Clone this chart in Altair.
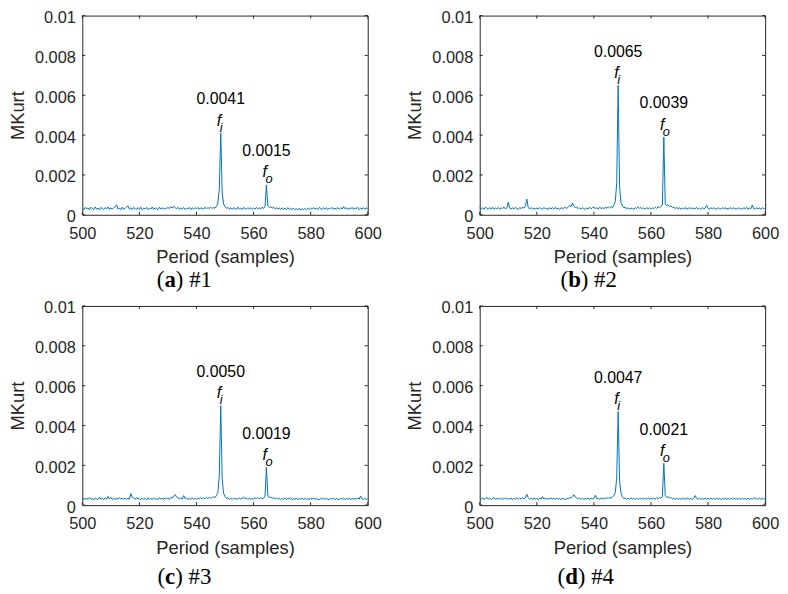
import altair as alt
import pandas as pd

# ---- data ----------------------------------------------------------------
# sample grid of the period axis (samples), 0.5 sample step
PERIOD = [500 + 0.5 * i for i in range(201)]

X_TICKS = [500, 520, 540, 560, 580, 600]
Y_TICKS = [0, 0.002, 0.004, 0.006, 0.008, 0.01]

# MKurt values in units of 1e-4, one row = 10 samples (20 points)
MK_A = [
    3.3, 2.6, 3.7, 2.9, 3.5, 2.5, 3.8, 3.0, 2.6, 3.9, 2.8, 3.4, 2.5, 3.7, 3.1, 2.7, 3.6, 2.9, 3.9, 2.6,
    3.5, 2.8, 3.6, 4.0, 5.0, 2.9, 3.4, 2.6, 3.8, 2.7, 3.3, 3.9, 4.5, 2.8, 3.5, 2.6, 3.7, 3.0, 2.7, 3.6,
    2.8, 3.8, 2.6, 3.4, 3.0, 3.7, 2.5, 3.3, 2.9, 3.9, 2.7, 3.5, 3.1, 2.6, 3.8, 2.9, 3.6, 2.7, 3.4, 3.0,
    3.7, 3.1, 4.0, 3.4, 4.3, 3.6, 3.0, 3.8, 2.7, 3.5, 2.9, 3.6, 2.6, 3.4, 3.0, 3.7, 2.6, 3.5, 2.8, 3.6,
    2.9, 3.7, 2.7, 3.5, 3.1, 2.8, 3.8, 3.0, 3.6, 3.2, 3.9, 3.1, 3.7, 3.3, 4.2, 5.9, 13.0, 41.0, 11.0, 5.4,
    4.1, 3.2, 3.7, 2.8, 3.5, 2.7, 3.6, 3.0, 2.7, 3.8, 2.9, 3.4, 2.6, 3.7, 3.1, 2.8, 3.6, 2.9, 3.5, 2.7,
    3.4, 2.8, 3.7, 3.0, 3.5, 2.9, 3.8, 3.2, 4.1, 15.0, 4.5, 3.6, 4.0, 3.4, 3.8, 3.0, 3.6, 2.8, 3.4, 2.7,
    3.5, 2.8, 3.3, 2.6, 3.6, 2.7, 3.2, 2.5, 3.4, 2.6, 3.1, 2.4, 3.3, 2.5, 3.0, 2.6, 3.2, 2.5, 3.3, 2.7,
    3.4, 2.7, 3.6, 2.9, 3.3, 2.6, 3.7, 3.0, 2.7, 3.5, 2.8, 3.6, 2.6, 3.4, 3.0, 3.7, 2.7, 3.3, 2.9, 3.6,
    2.8, 3.5, 2.9, 4.1, 3.0, 3.6, 2.6, 3.4, 2.9, 3.7, 2.7, 3.5, 3.0, 3.8, 2.6, 3.3, 2.9, 3.6, 2.8, 3.4,
    3.0,
]
MK_B = [
    3.7, 2.9, 3.5, 2.7, 3.9, 3.1, 2.8, 3.6, 2.9, 3.8, 2.7, 3.4, 3.0, 3.7, 2.8, 3.5, 3.1, 3.9, 2.9, 3.4,
    6.3, 3.4, 2.8, 3.6, 2.9, 3.8, 3.0, 2.7, 3.6, 3.1, 3.9, 3.3, 4.2, 7.9, 3.5, 2.9, 3.7, 2.8, 3.4, 2.7,
    3.5, 2.8, 3.6, 3.0, 2.7, 3.7, 2.9, 3.4, 2.6, 3.6, 3.0, 3.5, 2.8, 3.8, 2.9, 3.3, 2.7, 3.6, 3.0, 3.4,
    3.8, 3.1, 4.0, 4.6, 4.1, 5.9, 4.3, 3.5, 3.9, 3.0, 3.5, 2.8, 3.6, 3.1, 2.7, 3.5, 2.9, 3.8, 3.0, 3.6,
    3.9, 3.0, 3.6, 2.9, 3.8, 3.2, 3.5, 3.0, 3.9, 3.3, 4.0, 3.4, 4.1, 3.6, 5.0, 6.6, 16.0, 65.0, 14.0, 6.2,
    4.4, 3.5, 3.8, 2.9, 3.6, 2.8, 3.4, 3.1, 2.7, 3.6, 3.1, 3.9, 3.2, 3.7, 2.9, 3.5, 2.8, 3.6, 3.0, 3.5,
    2.8, 3.6, 3.0, 3.8, 3.2, 4.0, 3.5, 4.3, 4.8, 39.0, 5.3, 4.6, 5.0, 4.1, 4.5, 3.6, 3.9, 3.1, 3.7, 3.0,
    3.5, 2.8, 3.4, 2.9, 3.7, 2.7, 3.5, 3.0, 3.6, 2.8, 3.4, 3.0, 3.7, 2.9, 3.3, 2.7, 3.6, 3.0, 3.4, 4.7,
    3.3, 2.8, 3.6, 2.9, 3.5, 3.0, 2.7, 3.6, 3.1, 2.8, 3.5, 2.9, 3.7, 2.7, 3.4, 3.0, 3.6, 2.8, 3.5, 3.0,
    2.8, 3.6, 2.9, 3.4, 2.7, 3.5, 3.1, 3.8, 2.8, 3.4, 3.0, 4.9, 3.1, 2.8, 3.6, 2.9, 3.5, 2.7, 3.6, 3.0,
    3.4,
]
MK_C = [
    2.8, 3.6, 2.7, 3.5, 3.0, 3.8, 2.9, 3.4, 2.6, 3.6, 3.1, 2.8, 3.9, 3.0, 3.5, 2.8, 3.7, 3.0, 4.4, 3.1,
    3.9, 2.9, 3.5, 2.7, 3.6, 3.0, 3.8, 3.1, 3.5, 2.9, 3.6, 2.8, 3.4, 3.0, 5.8, 3.9, 3.6, 2.9, 3.8, 3.0,
    3.5, 2.8, 3.6, 2.9, 3.4, 2.6, 3.7, 3.0, 3.3, 2.8, 3.6, 2.9, 3.4, 2.7, 3.8, 3.0, 3.5, 2.8, 3.7, 3.1,
    3.6, 2.9, 3.8, 3.5, 4.6, 5.3, 4.1, 3.7, 3.2, 3.6, 3.0, 4.8, 3.3, 3.7, 2.8, 3.5, 2.9, 3.6, 3.0, 3.4,
    2.9, 3.6, 3.1, 3.8, 3.0, 3.7, 3.2, 3.9, 3.3, 4.0, 3.4, 3.9, 4.2, 3.8, 4.9, 6.3, 15.0, 50.0, 13.0, 6.0,
    4.3, 3.4, 3.7, 2.9, 3.5, 2.8, 3.6, 3.0, 3.4, 2.9, 3.7, 3.1, 3.5, 4.0, 3.3, 3.6, 2.8, 3.5, 2.9, 3.4,
    3.0, 3.7, 3.3, 3.9, 3.1, 3.8, 3.0, 3.6, 4.2, 19.0, 4.6, 3.7, 4.1, 3.5, 3.8, 3.0, 3.6, 2.9, 3.5, 2.8,
    3.4, 2.9, 3.6, 2.8, 3.5, 3.1, 3.7, 2.7, 3.3, 2.9, 3.6, 2.8, 3.4, 3.0, 3.6, 2.7, 3.5, 2.9, 3.3, 2.7,
    3.6, 2.9, 3.7, 2.8, 3.4, 3.0, 2.7, 3.5, 2.9, 3.6, 2.8, 3.4, 3.0, 2.7, 3.5, 2.9, 3.6, 2.8, 3.3, 3.0,
    2.7, 3.4, 2.9, 3.6, 2.8, 3.3, 2.9, 3.6, 2.7, 3.4, 3.0, 3.5, 2.8, 3.7, 3.0, 4.5, 3.1, 2.8, 3.4, 2.9,
    3.2,
]
MK_D = [
    3.6, 2.9, 3.7, 2.8, 3.5, 3.9, 2.9, 3.6, 2.8, 3.4, 3.7, 2.9, 3.5, 3.0, 3.6, 2.8, 3.5, 2.9, 3.7, 3.0,
    3.4, 2.9, 3.6, 2.7, 3.5, 3.1, 3.7, 2.9, 3.6, 3.0, 3.8, 3.1, 3.6, 5.4, 3.7, 3.0, 3.5, 2.8, 3.6, 3.0,
    3.4, 2.7, 3.5, 3.0, 4.3, 3.0, 3.6, 2.8, 3.4, 2.9, 3.7, 3.0, 3.5, 2.8, 3.6, 2.9, 3.4, 2.7, 3.6, 3.1,
    2.8, 3.5, 3.0, 3.8, 3.6, 4.4, 5.2, 4.0, 3.8, 3.0, 3.6, 2.9, 3.5, 2.8, 3.4, 3.0, 3.7, 2.8, 3.5, 3.1,
    3.5, 5.0, 3.2, 3.6, 2.9, 3.7, 3.0, 3.6, 3.2, 3.8, 3.3, 3.9, 3.5, 4.2, 4.8, 6.2, 14.0, 47.0, 12.5, 5.8,
    4.2, 3.3, 3.6, 2.9, 3.5, 2.8, 3.7, 3.0, 3.4, 2.9, 3.6, 2.8, 3.5, 3.0, 3.6, 2.9, 3.5, 3.0, 3.7, 3.1,
    3.5, 2.9, 3.6, 3.0, 3.8, 3.2, 3.9, 3.5, 4.3, 21.0, 4.8, 3.9, 4.2, 3.6, 3.9, 3.1, 3.5, 2.9, 3.6, 2.8,
    3.4, 2.9, 3.6, 2.8, 3.5, 3.0, 3.7, 2.9, 3.4, 2.8, 3.5, 4.8, 3.4, 2.9, 3.6, 2.8, 3.5, 2.9, 3.4, 3.0,
    3.5, 2.8, 3.6, 2.9, 3.4, 3.0, 3.6, 2.8, 3.5, 2.7, 3.4, 3.0, 3.6, 2.8, 3.5, 2.9, 3.4, 3.0, 3.6, 2.9,
    3.4, 2.8, 3.5, 2.9, 3.6, 3.0, 3.4, 2.8, 3.5, 2.9, 3.3, 3.0, 3.7, 3.2, 3.5, 2.8, 3.6, 2.9, 3.5, 3.0,
    3.3,
]

# annotated peaks: period, value, label, subscript
PEAK_PERIOD = [548.5, 564.5]
PEAK_SUB = ["i", "o"]
PEAKS_A = [0.0041, 0.0015]
PEAKS_B = [0.0065, 0.0039]
PEAKS_C = [0.0050, 0.0019]
PEAKS_D = [0.0047, 0.0021]
LABELS_A = ["0.0041", "0.0015"]
LABELS_B = ["0.0065", "0.0039"]
LABELS_C = ["0.0050", "0.0019"]
LABELS_D = ["0.0047", "0.0021"]

# ---- styling ---------------------------------------------------------------
W, H = 288, 201
LINE_COLOR = "#0072BD"
AX_COLOR = "#262626"
SANS = "Liberation Sans"
SERIF = "Liberation Serif"
CAP_FS = 23
BOLD_W = {"a": 0.5, "b": 0.556, "c": 0.444, "d": 0.556}

XAXIS = alt.Axis(values=X_TICKS, title="Period (samples)", labelPadding=11,
                 titlePadding=6, domain=False, ticks=False, grid=False,
                 labelFlush=False, labelOverlap=False,
                 labelFont=SANS, labelFontSize=16.5, labelColor=AX_COLOR,
                 titleFont=SANS, titleFontSize=18.5, titleFontWeight="normal",
                 titleColor=AX_COLOR)
YAXIS = alt.Axis(values=Y_TICKS, format="~g", title="MKurt", labelPadding=7,
                 labelOffset=2, titlePadding=7, domain=False, ticks=False,
                 grid=False, labelFlush=False, labelOverlap=False,
                 labelFont=SANS, labelFontSize=16.5, labelColor=AX_COLOR,
                 titleFont=SANS, titleFontSize=18.5, titleFontWeight="normal",
                 titleColor=AX_COLOR)


def panel(vals, peaks, labels, letter, num, cap_cx, cap_base):
    if len(vals) != len(PERIOD):
        raise ValueError(f"panel {letter}: {len(vals)} values")
    df = pd.DataFrame({"Period": PERIOD, "MKurt": [v * 1e-4 for v in vals]})
    pk = pd.DataFrame({"Period": PEAK_PERIOD, "MKurt": peaks,
                       "label": labels, "sub": PEAK_SUB})
    xt = pd.DataFrame({"Period": X_TICKS})
    yt = pd.DataFrame({"MKurt": Y_TICKS})

    xs = alt.Scale(domain=[500, 600], nice=False, zero=False)
    ys = alt.Scale(domain=[0, 0.01], nice=False)
    xe = alt.X("Period:Q", scale=xs, axis=XAXIS)
    ye = alt.Y("MKurt:Q", scale=ys, axis=YAXIS)

    line = alt.Chart(df).mark_line(color=LINE_COLOR, strokeWidth=1).encode(x=xe, y=ye)

    val_txt = alt.Chart(pk).mark_text(
        font=SANS, fontSize=16, align="center", baseline="alphabetic",
        dy=-29, color="black").encode(x=xe, y=ye, text="label:N")
    f_txt = alt.Chart(pk).mark_text(
        font=SANS, fontSize=16, fontStyle="italic", align="right",
        baseline="alphabetic", dy=-7.5, dx=0.5, color="black", text="f").encode(x=xe, y=ye)
    s_txt = alt.Chart(pk).mark_text(
        font=SANS, fontSize=13, fontStyle="italic", align="left",
        baseline="alphabetic", dy=-1.5, dx=-1, color="black").encode(x=xe, y=ye, text="sub:N")

    tk = dict(color=AX_COLOR, strokeWidth=1)
    xb = alt.Chart(xt).mark_rule(**tk).encode(x=xe, y=alt.value(H), y2=alt.value(H - 3))
    xtop = alt.Chart(xt).mark_rule(**tk).encode(x=xe, y=alt.value(0), y2=alt.value(3))
    yl = alt.Chart(yt).mark_rule(**tk).encode(y=ye, x=alt.value(0), x2=alt.value(3))
    yr = alt.Chart(yt).mark_rule(**tk).encode(y=ye, x=alt.value(W), x2=alt.value(W - 3))

    # caption "(x) #n" with bold letter
    one = pd.DataFrame({"k": [0]})
    lw = BOLD_W[letter]
    total = (0.333 + lw + 0.333 + 0.25 + 1.0) * CAP_FS
    left = cap_cx - total / 2
    cap_common = dict(font=SERIF, fontSize=CAP_FS, align="left",
                      baseline="alphabetic", color="black")
    c1 = alt.Chart(one).mark_text(text="(", **cap_common).encode(
        x=alt.value(left), y=alt.value(H + cap_base))
    c2 = alt.Chart(one).mark_text(text=letter, fontWeight="bold", **cap_common).encode(
        x=alt.value(left + 0.333 * CAP_FS), y=alt.value(H + cap_base))
    c3 = alt.Chart(one).mark_text(text=") " + num, **cap_common).encode(
        x=alt.value(left + (0.333 + lw) * CAP_FS), y=alt.value(H + cap_base))

    return alt.layer(line, xb, xtop, yl, yr, val_txt, f_txt, s_txt, c1, c2, c3).properties(
        width=W, height=H)


pa = panel(MK_A, PEAKS_A, LABELS_A, "a", "#1", 103, 73)
pb = panel(MK_B, PEAKS_B, LABELS_B, "b", "#2", 110, 73)
pc = panel(MK_C, PEAKS_C, LABELS_C, "c", "#3", 103, 80)
pd_ = panel(MK_D, PEAKS_D, LABELS_D, "d", "#4", 107, 80)

chart = alt.concat(pa, pb, pc, pd_, columns=2,
                   spacing={"row": 92, "column": 113}, bounds="flush").properties(
    padding={"left": 0, "top": -2, "right": 0, "bottom": 0}
).configure_view(stroke=AX_COLOR, strokeWidth=1)

chart.save("out.html", embed_options={"renderer": "svg", "actions": False})
